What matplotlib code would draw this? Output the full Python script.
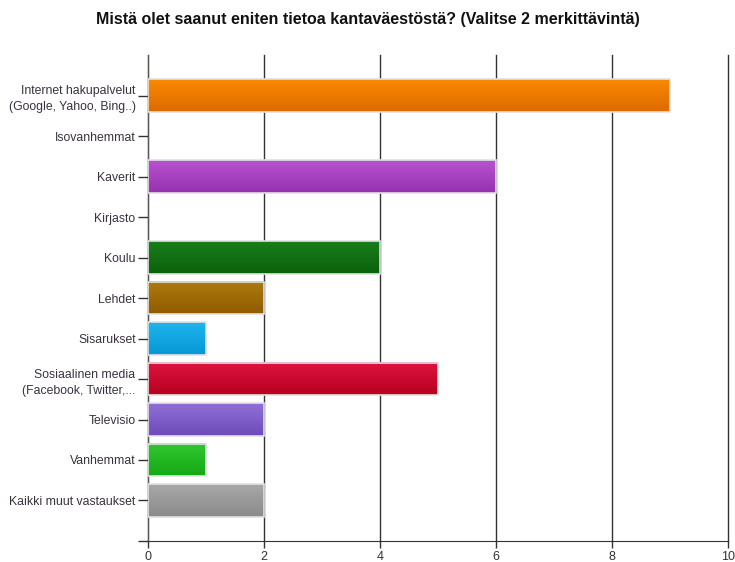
import matplotlib.pyplot as plt
import matplotlib.colors as mcolors
import numpy as np

plt.rcParams["font.family"] = ["Liberation Sans", "DejaVu Sans"]

categories = [
    "Internet hakupalvelut\n(Google, Yahoo, Bing..)",
    "Isovanhemmat",
    "Kaverit",
    "Kirjasto",
    "Koulu",
    "Lehdet",
    "Sisarukset",
    "Sosiaalinen media\n(Facebook, Twitter,...",
    "Televisio",
    "Vanhemmat",
    "Kaikki muut vastaukset",
]
values = [9, 0, 6, 0, 4, 2, 1, 5, 2, 1, 2]
# (top colour, bottom colour) of each bar's vertical gradient
bar_colors = [
    ("#fb8a00", "#dc6a00"),
    ("#ffffff", "#ffffff"),
    ("#b851cf", "#9632b0"),
    ("#ffffff", "#ffffff"),
    ("#1a7d1a", "#0a620a"),
    ("#ad7a10", "#8f5c00"),
    ("#1fb4ee", "#0698d6"),
    ("#dd1440", "#b80020"),
    ("#9070d8", "#6e4bb8"),
    ("#2fc82f", "#16a816"),
    ("#a8a8a8", "#8a8a8a"),
]
x_ticks = [0, 2, 4, 6, 8, 10]
title = "Mistä olet saanut eniten tietoa kantaväestöstä? (Valitse 2 merkittävintä)"

fig = plt.figure(figsize=(7.35, 5.62), dpi=100)
ax = fig.add_axes([0.2014, 0.0374, 0.7891, 0.8646])

positions = np.arange(len(categories))
bar_height = 0.8

for pos, val, (c_top, c_bot) in zip(positions, values, bar_colors):
    if val <= 0:
        continue
    cmap = mcolors.LinearSegmentedColormap.from_list("g", [c_top, c_bot])
    grad = np.linspace(0, 1, 64).reshape(-1, 1)
    y0 = pos - bar_height / 2
    y1 = pos + bar_height / 2
    ax.imshow(grad, cmap=cmap, aspect="auto", extent=(0, val, y1, y0),
              zorder=3, interpolation="bilinear")
    ax.add_patch(plt.Rectangle((0, y0), val, bar_height, fill=False,
                               edgecolor="#e2e2e2", linewidth=1.2, zorder=4))

ax.set_xlim(0, 10)
ax.set_ylim(len(categories), -1)
ax.set_xticks(x_ticks)
ax.set_xticklabels([str(t) for t in x_ticks], fontsize=9, color="#333333")
ax.set_yticks(list(positions) + [len(categories)])
ax.set_yticklabels(categories + [""], fontsize=8.8, color="#3a3040",
                   linespacing=1.45)
ax.tick_params(axis="y", length=7, width=1, color="#333333", pad=2)
ax.tick_params(axis="x", length=5, width=1, color="#333333", pad=2)

ax.grid(axis="x", color="#333333", linewidth=1, zorder=1)
for gl in ax.xaxis.get_gridlines():
    gl.set_clip_on(False)
ax.set_axisbelow(True)
for side in ["top", "right"]:
    ax.spines[side].set_visible(False)
ax.spines["left"].set_color("#555555")
ax.spines["bottom"].set_color("#333333")
ax.spines["bottom"].set_zorder(5)

fig.text(0.5, 0.966, title, ha="center", va="center", fontsize=11.5,
         fontweight="bold", color="#111111")

fig.savefig("out.png", dpi=100)
